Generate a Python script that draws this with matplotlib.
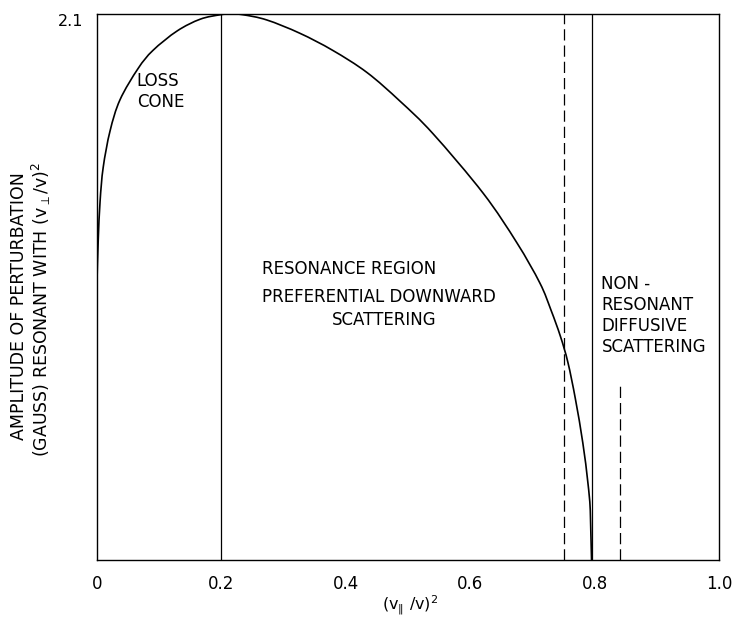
import matplotlib
matplotlib.use("Agg")
import matplotlib.pyplot as plt
import numpy as np
from matplotlib.path import Path
from matplotlib.patches import PathPatch

# Perturbation amplitude vs (v_par / v)^2
pitch = [0.0, 0.002, 0.005, 0.010, 0.021, 0.037, 0.066, 0.090, 0.129, 0.166,
         0.198, 0.215, 0.235, 0.273, 0.326, 0.379, 0.434, 0.487, 0.540,
         0.621, 0.675, 0.712, 0.730, 0.745, 0.757, 0.769, 0.781, 0.789,
         0.793, 0.795]
amplitude = [1.07, 1.23, 1.38, 1.51, 1.65, 1.77, 1.89, 1.96, 2.035, 2.08,
             2.097, 2.10, 2.097, 2.077, 2.026, 1.96, 1.875, 1.765, 1.64,
             1.41, 1.22, 1.065, 0.96, 0.86, 0.76, 0.62, 0.45, 0.30,
             0.19, 0.0]

solid_bounds = [0.2, 0.795]
dashed_bounds = [0.75]
short_dashed = 0.84
short_dashed_top = 0.67

x_ticks = [0.0, 0.2, 0.4, 0.6, 0.8, 1.0]
x_tick_labels = ["0", "0.2", "0.4", "0.6", "0.8", "1.0"]
inner_ticks = [0.4, 0.6]
y_max = 2.1


def smooth_path(xs, ys):
    """Cubic Bezier path passing through every sample (Catmull-Rom tangents)."""
    p = np.column_stack([xs, ys]).astype(float)
    n = len(p)
    verts = [p[0]]
    codes = [Path.MOVETO]
    for i in range(n - 1):
        p0 = p[i - 1] if i > 0 else p[i]
        p1, p2 = p[i], p[i + 1]
        p3 = p[i + 2] if i + 2 < n else p[i + 1]
        if i == n - 2:
            verts.append(p2)
            codes.append(Path.LINETO)
            continue
        c1 = p1 + (p2 - p0) / 6.0
        c2 = p2 - (p3 - p1) / 6.0
        verts += [c1, c2, p2]
        codes += [Path.CURVE4] * 3
    return Path(verts, codes)


plt.rcParams["font.family"] = ["DejaVu Sans"]

fig = plt.figure(figsize=(7.33, 6.19), dpi=100)
ax = fig.add_axes([0.1323, 0.0953, 0.981 - 0.1323, 0.9774 - 0.0953])

ax.add_patch(PathPatch(smooth_path(pitch, amplitude), fill=False,
                       edgecolor="black", lw=1.2, joinstyle="round"))
for xv in solid_bounds:
    ax.axvline(xv, color="black", lw=0.9)
for xv in dashed_bounds:
    ax.axvline(xv, color="black", lw=0.9, dashes=(9, 4))
ax.plot([short_dashed, short_dashed], [0, short_dashed_top], color="black",
        lw=0.9, dashes=(9, 4))

ax.set_xlim(0, 1.0)
ax.set_ylim(0, y_max)
for s in ax.spines.values():
    s.set_linewidth(1.0)
    s.set_color("black")

ax.set_xticks(x_ticks)
ax.set_xticklabels(x_tick_labels, fontsize=12)
ax.tick_params(axis="x", which="major", length=0, pad=11)
ax.set_xticks(inner_ticks, minor=True)
ax.tick_params(axis="x", which="minor", direction="in", length=14, width=0.8)
ax.set_yticks([])
ax.text(-0.022, y_max, "2.1", ha="right", va="top", fontsize=11.5)

fig.text(0.5595, 0.004, r"$(\mathregular{v_{\|}\ /v)^2}$", fontsize=11.5,
         ha="center", va="bottom")

fig.text(0.026, 0.505, "AMPLITUDE OF PERTURBATION", rotation=90,
         ha="center", va="center", fontsize=12.5)
fig.text(0.056, 0.500, r"(GAUSS) RESONANT WITH $\mathregular{(v_{\perp}/v)^2}$",
         rotation=90, ha="center", va="center", fontsize=12.5)

txt = dict(fontsize=12, color="black")
ax.text(0.064, 1.875, "LOSS\nCONE", ha="left", va="top", linespacing=1.15, **txt)
ax.text(0.265, 1.12, "RESONANCE REGION", ha="left", va="center", **txt)
ax.text(0.265, 1.01, "PREFERENTIAL DOWNWARD", ha="left", va="center", **txt)
ax.text(0.462, 0.925, "SCATTERING", ha="center", va="center", **txt)
ax.text(0.811, 1.095, "NON -\nRESONANT\nDIFFUSIVE\nSCATTERING", ha="left",
        va="top", linespacing=1.2, **txt)

fig.savefig("out.png", dpi=100)
